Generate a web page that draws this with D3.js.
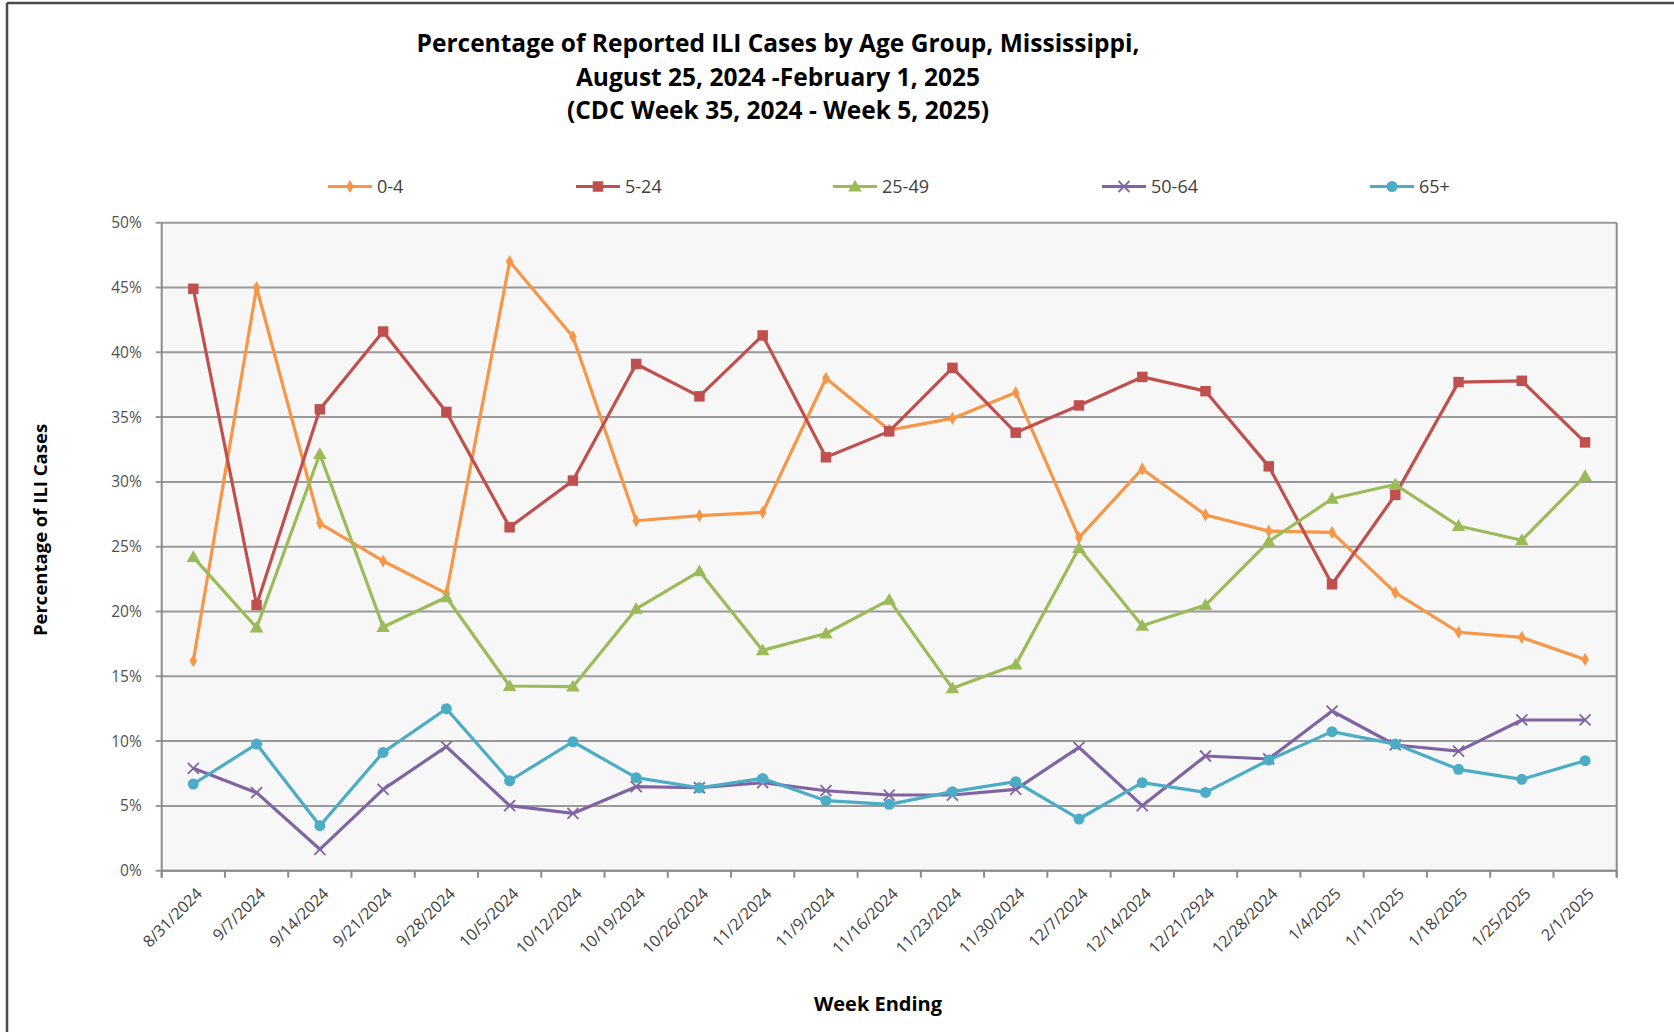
<!DOCTYPE html>
<html>
<head>
<meta charset="utf-8">
<script src="https://cdn.jsdelivr.net/npm/d3@7"></script>
<style>
  html, body { margin: 0; padding: 0; background: #ffffff; }
  svg { display: block; }
  text { font-family: "Open Sans", "Noto Sans", sans-serif; }
</style>
</head>
<body>
<svg id="chart" width="1674" height="1032"></svg>
<script>
// ---------- data ----------
const titleLines = [
  "Percentage of Reported ILI Cases by Age Group, Mississippi,",
  "August 25, 2024 -February 1, 2025",
  "(CDC Week 35, 2024 - Week 5, 2025)"
];
const xTitle = "Week Ending";
const yTitle = "Percentage of ILI Cases";

const categories = [
  "8/31/2024","9/7/2024","9/14/2024","9/21/2024","9/28/2024","10/5/2024",
  "10/12/2024","10/19/2024","10/26/2024","11/2/2024","11/9/2024","11/16/2024",
  "11/23/2024","11/30/2024","12/7/2024","12/14/2024","12/21/2924","12/28/2024",
  "1/4/2025","1/11/2025","1/18/2025","1/25/2025","2/1/2025"
];

const seriesNames = ["0-4", "5-24", "25-49", "50-64", "65+"];

const age0_4 = [16.2, 45.0, 26.8, 23.9, 21.4, 47.0, 41.2, 27.0, 27.4, 27.65, 38.0, 34.0,
                34.9, 36.9, 25.7, 31.0, 27.45, 26.2, 26.1, 21.45, 18.4, 18.0, 16.3];
const age5_24 = [44.9, 20.5, 35.6, 41.6, 35.4, 26.5, 30.1, 39.1, 36.6, 41.3, 31.9, 33.9,
                 38.8, 33.8, 35.9, 38.1, 37.0, 31.2, 22.1, 29.0, 37.7, 37.8, 33.05];
const age25_49 = [24.2, 18.75, 32.15, 18.8, 21.1, 14.25, 14.2, 20.2, 23.1, 17.0, 18.3, 20.9,
                  14.07, 15.9, 24.9, 18.9, 20.5, 25.4, 28.7, 29.8, 26.6, 25.5, 30.45];
const age50_64 = [7.9, 6.02, 1.65, 6.28, 9.57, 5.02, 4.42, 6.48, 6.4, 6.79, 6.17, 5.84,
                  5.84, 6.28, 9.52, 5.02, 8.85, 8.62, 12.32, 9.7, 9.23, 11.63, 11.63];
const age65plus = [6.69, 9.77, 3.47, 9.13, 12.5, 6.94, 9.95, 7.18, 6.4, 7.12, 5.4, 5.12,
                   6.1, 6.87, 3.99, 6.79, 6.04, 8.54, 10.73, 9.77, 7.82, 7.05, 8.49];

const yTicks = [0, 5, 10, 15, 20, 25, 30, 35, 40, 45, 50];

// ---------- styling ----------
const colors = ["#F79646", "#C0504D", "#9BBB59", "#8064A2", "#4BACC6"];
const markers = ["diamond", "square", "triangle", "x", "circle"];
const seriesValues = [age0_4, age5_24, age25_49, age50_64, age65plus];

const svg = d3.select("#chart");
const W = 1674, H = 1032;
const plot = { left: 161.7, right: 1616.7, top: 222.7, bottom: 870.7 };

// outer frame
svg.append("line").attr("x1", 7).attr("x2", W).attr("y1", 3).attr("y2", 3)
  .attr("stroke", "#4a4a4a").attr("stroke-width", 2.5);
svg.append("line").attr("x1", 7).attr("x2", 7).attr("y1", 3).attr("y2", H)
  .attr("stroke", "#4a4a4a").attr("stroke-width", 2.5);

// scales
const x = d3.scaleBand().domain(categories).range([plot.left, plot.right]).padding(0);
const y = d3.scaleLinear().domain([0, 50]).range([plot.bottom, plot.top]);
const cx = d => x(d) + x.bandwidth() / 2;

// plot background
svg.append("rect")
  .attr("x", plot.left).attr("y", plot.top)
  .attr("width", plot.right - plot.left).attr("height", plot.bottom - plot.top)
  .attr("fill", "#F7F7F7");

// gridlines
svg.append("g").selectAll("line").data(yTicks).join("line")
  .attr("x1", plot.left - 6).attr("x2", plot.right)
  .attr("y1", d => y(d)).attr("y2", d => y(d))
  .attr("stroke", "#9A9A9A").attr("stroke-width", 2);

// y axis labels
const yAxis = d3.axisLeft(y).tickValues(yTicks).tickFormat(d => d + "%").tickSize(0).tickPadding(20);
const yG = svg.append("g").attr("transform", `translate(${plot.left},0)`).call(yAxis);
yG.select(".domain").remove();
yG.selectAll("text").attr("font-size", 15.5).attr("fill", "#505050")
  .attr("font-family", "'Open Sans', sans-serif");

// plot border left/right/bottom
svg.append("line").attr("x1", plot.left).attr("x2", plot.left)
  .attr("y1", plot.top).attr("y2", plot.bottom + 7).attr("stroke", "#8C8C8C").attr("stroke-width", 2);
svg.append("line").attr("x1", plot.right).attr("x2", plot.right)
  .attr("y1", plot.top).attr("y2", plot.bottom + 7).attr("stroke", "#8C8C8C").attr("stroke-width", 2);
svg.append("line").attr("x1", plot.left).attr("x2", plot.right)
  .attr("y1", plot.bottom).attr("y2", plot.bottom).attr("stroke", "#8C8C8C").attr("stroke-width", 2);

// x tick marks at category boundaries
const bounds = categories.map(c => x(c)).concat([plot.right]);
svg.append("g").selectAll("line").data(bounds).join("line")
  .attr("x1", d => d).attr("x2", d => d)
  .attr("y1", plot.bottom).attr("y2", plot.bottom + 7)
  .attr("stroke", "#8C8C8C").attr("stroke-width", 2);

// x labels (rotated)
const xAxis = d3.axisBottom(x).tickSize(0).tickPadding(0);
const xG = svg.append("g").attr("transform", `translate(0,${plot.bottom})`).call(xAxis);
xG.select(".domain").remove();
xG.selectAll(".tick line").remove();
xG.selectAll(".tick text")
  .attr("font-size", 16).attr("fill", "#404040")
  .attr("font-family", "'Open Sans', sans-serif")
  .attr("text-anchor", "end")
  .attr("dy", "0.35em")
  .attr("transform", "translate(6,20) rotate(-45)");

// series
const lineGen = d3.line().x((d, i) => cx(categories[i])).y(d => y(d));

function drawMarker(g, type, color, px, py, scale) {
  const s = scale || 1;
  if (type === "diamond") {
    g.append("path").attr("d", d3.symbol(d3.symbolDiamond, 50 * s)())
      .attr("transform", `translate(${px},${py})`).attr("fill", color);
  } else if (type === "square") {
    g.append("path").attr("d", d3.symbol(d3.symbolSquare, 110 * s)())
      .attr("transform", `translate(${px},${py})`).attr("fill", color);
  } else if (type === "triangle") {
    g.append("path").attr("d", d3.symbol(d3.symbolTriangle, 80 * s)())
      .attr("transform", `translate(${px},${py + 1})`).attr("fill", color);
  } else if (type === "x") {
    const r = 5.5 * Math.sqrt(s);
    g.append("path")
      .attr("d", `M${-r},${-r}L${r},${r}M${-r},${r}L${r},${-r}`)
      .attr("transform", `translate(${px},${py})`)
      .attr("stroke", color).attr("stroke-width", 1.8).attr("fill", "none");
  } else if (type === "circle") {
    g.append("circle").attr("cx", px).attr("cy", py).attr("r", 5.5 * Math.sqrt(s))
      .attr("fill", color);
  }
}

const seriesG = svg.append("g");
seriesValues.forEach((vals, si) => {
  const g = seriesG.append("g");
  g.append("path").datum(vals).attr("d", lineGen)
    .attr("fill", "none").attr("stroke", colors[si]).attr("stroke-width", 3.2)
    .attr("stroke-linejoin", "round");
  vals.forEach((v, i) => drawMarker(g, markers[si], colors[si], cx(categories[i]), y(v)));
});

// legend
const legendX = [328, 576, 833, 1102, 1370];
const legendY = 186.5;
const legG = svg.append("g");
seriesNames.forEach((name, i) => {
  const lx = legendX[i];
  legG.append("line").attr("x1", lx).attr("x2", lx + 44)
    .attr("y1", legendY).attr("y2", legendY)
    .attr("stroke", colors[i]).attr("stroke-width", 3.2);
  drawMarker(legG, markers[i], colors[i], lx + 22, legendY, 1);
  legG.append("text").attr("x", lx + 49).attr("y", legendY).attr("dy", "0.35em")
    .attr("font-size", 18).attr("fill", "#404040").text(name);
});

// title
svg.append("g").selectAll("text").data(titleLines).join("text")
  .attr("x", 778).attr("y", (d, i) => 52 + i * 33.5)
  .attr("text-anchor", "middle")
  .attr("font-size", 24.5).attr("font-weight", "bold").attr("fill", "#000")
  .text(d => d);

// axis titles
svg.append("text").attr("x", 878).attr("y", 1011)
  .attr("text-anchor", "middle").attr("font-size", 20).attr("font-weight", "bold")
  .attr("fill", "#000").text(xTitle);
svg.append("text")
  .attr("transform", "translate(47,530) rotate(-90)")
  .attr("text-anchor", "middle").attr("font-size", 18.5).attr("font-weight", "bold")
  .attr("fill", "#000").text(yTitle);
</script>
</body>
</html>
